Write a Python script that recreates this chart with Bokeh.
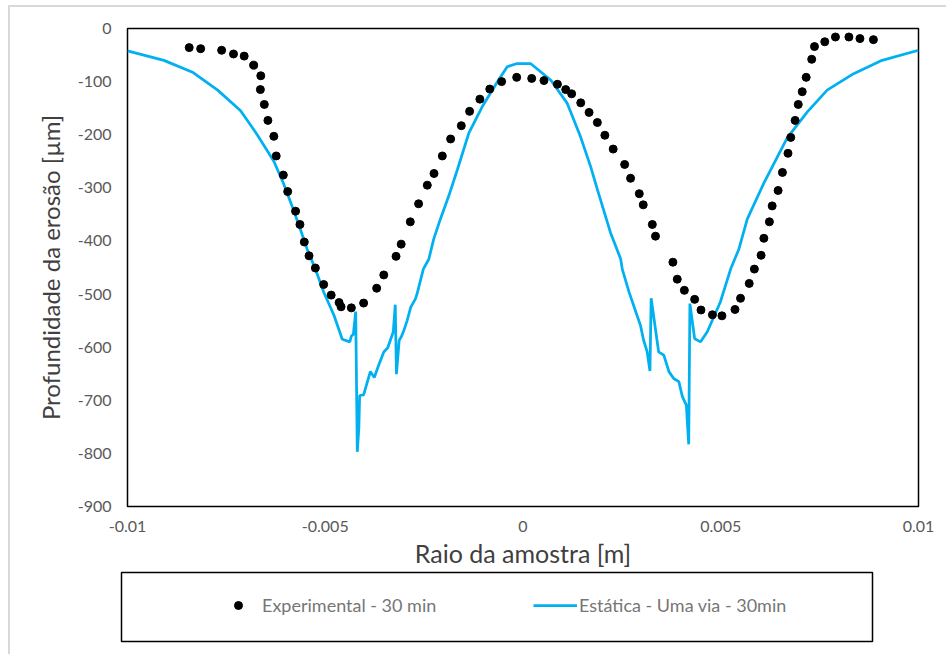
import numpy as np
from bokeh.plotting import figure
from bokeh.models import Range1d, FixedTicker, Legend, LegendItem, InlineStyleSheet
from bokeh.layouts import column
from bokeh.embed import file_html
from bokeh.resources import INLINE

# Experimental erosion profile after 30 min (radius in m, depth in µm)
exp_x = [-0.00844, -0.00815, -0.00762, -0.00732, -0.00705, -0.00681, -0.00663, -0.00664,
         -0.00654, -0.00645, -0.00630, -0.00624, -0.00606, -0.00595, -0.00575, -0.00564,
         -0.00553, -0.00541, -0.00525, -0.00504, -0.00485, -0.00465, -0.00460, -0.00434,
         -0.00403, -0.00370, -0.00352, -0.00321, -0.00308, -0.00285, -0.00264, -0.00242,
         -0.00225, -0.00204, -0.00183, -0.00156, -0.00135, -0.00109, -0.00084, -0.00054,
         -0.00016, 0.00022, 0.00053, 0.00087, 0.00108, 0.00123, 0.00146, 0.00167,
         0.00188, 0.00207, 0.00228, 0.00257, 0.00272, 0.00294, 0.00304, 0.00327,
         0.00335, 0.00379, 0.00390, 0.00408, 0.00434, 0.00450, 0.00479, 0.00503,
         0.00536, 0.00550, 0.00572, 0.00585, 0.00602, 0.00609, 0.00623, 0.00630,
         0.00645, 0.00656, 0.00670, 0.00677, 0.00688, 0.00696, 0.00706, 0.00716,
         0.00730, 0.00737, 0.00763, 0.00790, 0.00824, 0.00852, 0.00886]
exp_y = [-36, -38, -41, -48, -52, -69, -89, -115,
         -143, -173, -203, -240, -276, -307, -344, -369,
         -402, -428, -451, -482, -502, -516, -524, -526,
         -517, -489, -464, -429, -406, -364, -330, -295,
         -273, -240, -208, -183, -156, -133, -114, -100,
         -92, -94, -98, -105, -115, -123, -140, -158,
         -177, -201, -227, -256, -282, -311, -332, -369,
         -391, -440, -472, -493, -510, -530, -539, -541,
         -529, -508, -480, -453, -427, -395, -364, -334,
         -305, -271, -235, -205, -173, -143, -119, -92,
         -58, -34, -25, -16, -16, -19, -21]

# Static one-way simulation after 30 min
sim_x = [-0.0100, -0.00908, -0.00834, -0.00772, -0.00714, -0.00672, -0.00630, -0.00606,
         -0.00584, -0.00563, -0.00546, -0.00525, -0.00504, -0.00478, -0.00457, -0.00438,
         -0.00434, -0.00429, -0.00423, -0.00419, -0.00415, -0.00413, -0.00403, -0.00386,
         -0.00376, -0.00365, -0.00352, -0.00342, -0.00328, -0.00323, -0.00320, -0.00313,
         -0.00308, -0.00301, -0.00293, -0.00284, -0.00272, -0.00268, -0.00252, -0.00238,
         -0.00226, -0.00209, -0.00188, -0.00166, -0.00137, -0.00103, -0.00061, -0.00040,
         -0.00015, 0.00019, 0.00070, 0.00112, 0.00145, 0.00171, 0.00188, 0.00221,
         0.00247, 0.00251, 0.00268, 0.00284, 0.00297, 0.00305, 0.00314, 0.00321,
         0.00324, 0.00333, 0.00343, 0.00356, 0.00369, 0.00381, 0.00394, 0.00403,
         0.00413, 0.00419, 0.00422, 0.00434, 0.00449, 0.00466, 0.00499, 0.00525,
         0.00546, 0.00567, 0.00609, 0.00668, 0.00719, 0.00769, 0.00836, 0.00908, 0.0100]
sim_y = [-42, -60, -83, -116, -155, -200, -250, -291,
         -334, -378, -415, -453, -496, -540, -585, -590,
         -579, -576, -533, -797, -752, -691, -690, -646,
         -657, -634, -609, -601, -571, -520, -651, -587,
         -581, -568, -550, -525, -509, -500, -453, -434,
         -397, -359, -316, -266, -197, -147, -96, -72,
         -66, -66, -97, -141, -203, -260, -303, -384,
         -434, -453, -496, -531, -559, -587, -609, -645,
         -508, -556, -609, -615, -646, -659, -665, -693,
         -709, -783, -518, -584, -590, -571, -515, -453,
         -415, -359, -291, -206, -157, -116, -85, -60, -41]

x_ticks = [-0.01, -0.005, 0, 0.005, 0.01]
x_tick_labels = ["-0.01", "-0.005", "0", "0.005", "0.01"]
y_ticks = [0, -100, -200, -300, -400, -500, -600, -700, -800, -900]
y_tick_labels = ["0", "-100", "-200", "-300", "-400", "-500", "-600", "-700", "-800", "-900"]

exp_label = "Experimental - 30 min"
sim_label = "Estática - Uma via - 30min"

FONT = "Lato"
BLUE = "#00B0F0"
TICK_COLOR = "#595959"
TITLE_COLOR = "#404040"

p = figure(width=946, height=570, output_backend="svg", toolbar_location=None,
           x_range=Range1d(-0.01, 0.01), y_range=Range1d(-900, 0),
           min_border_left=127, min_border_right=28, min_border_top=28, min_border_bottom=61)
p.grid.visible = False
p.outline_line_color = "black"
p.outline_line_width = 1.5
p.outline_line_alpha = 1.0

p.line(sim_x, sim_y, line_color=BLUE, line_width=2.75)
p.scatter(exp_x, exp_y, size=8, fill_color="black", line_color="black")

p.xaxis.ticker = FixedTicker(ticks=x_ticks)
p.xaxis.major_label_overrides = dict(zip(x_ticks, x_tick_labels))
p.yaxis.ticker = FixedTicker(ticks=y_ticks)
p.yaxis.major_label_overrides = dict(zip(y_ticks, y_tick_labels))
p.xaxis.axis_label = "Raio da amostra [m]"
p.yaxis.axis_label = "Profundidade da erosão [µm]"

for ax in (p.xaxis[0], p.yaxis[0]):
    ax.axis_line_color = None
    ax.major_tick_line_color = None
    ax.minor_tick_line_color = None
    ax.major_tick_out = 0
    ax.major_tick_in = 0
    ax.major_label_text_font = FONT
    ax.major_label_text_font_size = "16px"
    ax.major_label_text_color = TICK_COLOR
    ax.axis_label_text_font = FONT
    ax.axis_label_text_font_style = "normal"
    ax.axis_label_text_color = TITLE_COLOR
p.xaxis.axis_label_text_font_size = "25px"
p.yaxis.axis_label_text_font_size = "24px"
p.xaxis.major_label_standoff = 14
p.xaxis.axis_label_standoff = 3
p.yaxis.major_label_standoff = 16
p.yaxis.axis_label_standoff = 10

# Legend panel drawn as its own framed strip below the chart
lg = figure(width=946, height=84, output_backend="svg", toolbar_location=None,
            x_range=Range1d(0, 1), y_range=Range1d(0, 1),
            x_axis_location=None, y_axis_location=None,
            min_border_left=121, min_border_right=74, min_border_top=2, min_border_bottom=13)
lg.grid.visible = False
lg.outline_line_color = "black"
lg.outline_line_width = 1.5
lg.outline_line_alpha = 1.0
# key renderers carry no drawable point; they only supply the legend swatches
key_dot = lg.scatter(x=[np.nan], y=[np.nan], size=8, fill_color="black", line_color="black")
key_line = lg.line(x=[np.nan], y=[np.nan], line_color=BLUE, line_width=2.75)
legend = Legend(items=[LegendItem(label=exp_label, renderers=[key_dot]),
                       LegendItem(label=sim_label, renderers=[key_line])],
                orientation="horizontal", location=(95, 25), padding=0, margin=0,
                spacing=18, glyph_width=44, glyph_height=20, label_standoff=2,
                label_width=253, border_line_color=None, background_fill_alpha=0,
                label_text_font=FONT, label_text_font_size="18px",
                label_text_color="#767676")
lg.add_layout(legend)

# keep each figure's own frame position instead of aligning frames in the column
for fig in (p, lg):
    if "frame_align" in fig.properties():
        fig.frame_align = False

frame_css = InlineStyleSheet(css="""
:host { position: relative; overflow: hidden; }
:host::after { content: ""; position: absolute; left: 8px; top: 5px; right: -20px; bottom: -20px;
  border-left: 2px solid #d9d9d9; border-top: 2px solid #d9d9d9; pointer-events: none; }
""")
layout = column(p, lg, spacing=0, stylesheets=[frame_css])

open("out.html", "w").write(file_html(layout, INLINE))
